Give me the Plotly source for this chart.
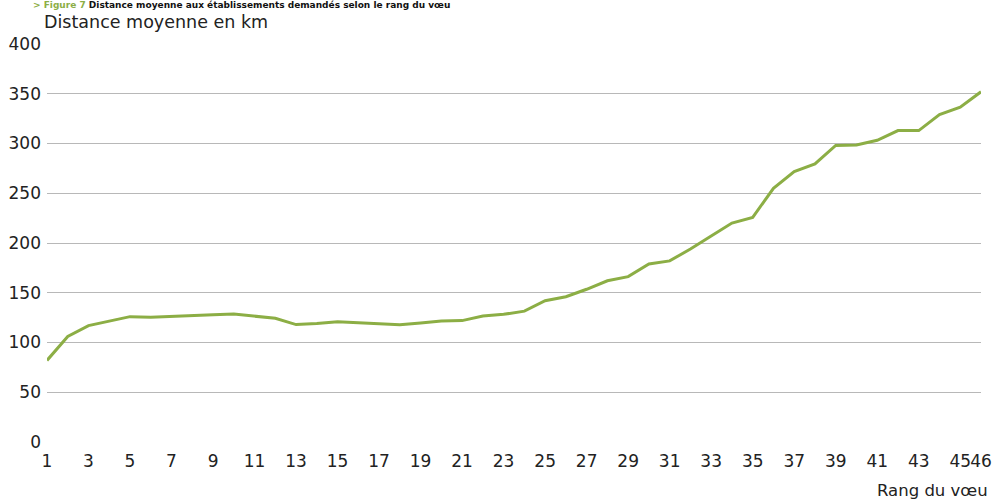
import plotly.graph_objects as go

rangs = list(range(1, 47))
distance = [82, 106, 117, 121.5, 126, 125.5, 126.5, 127.5, 128, 128.6,
            126.6, 124.3, 118, 119, 120.8, 119.8, 118.8, 117.8, 119.5, 121.5,
            122, 126.6, 128.3, 131.5, 142, 146, 153.5, 162, 166.2, 179,
            182, 194, 207, 220, 225.8, 255, 271.7, 279.5, 298, 298.5,
            303.2, 313, 313, 329, 336.5, 352]
xtick_vals = list(range(1, 46, 2)) + [46]
xtick_text = [str(v) for v in xtick_vals]
ytick_vals = [0, 50, 100, 150, 200, 250, 300, 350, 400]

FONT = "DejaVu Sans"
GREEN = "#8cae45"
TXT = "#222222"

fig = go.Figure()
fig.add_trace(go.Scatter(x=rangs, y=distance, mode="lines",
                         line=dict(color=GREEN, width=3), hoverinfo="x+y",
                         showlegend=False))

fig.update_layout(
    width=994, height=499,
    margin=dict(l=47, r=13, t=44, b=57, autoexpand=False),
    paper_bgcolor="white", plot_bgcolor="white",
    font=dict(family=FONT, size=17, color=TXT),
    xaxis=dict(range=[1, 46], tickvals=xtick_vals, ticktext=xtick_text,
               tickangle=0, showgrid=False, zeroline=False, showline=False,
               ticks="", ticklabelstandoff=7, automargin=False,
               tickfont=dict(size=17, color=TXT)),
    yaxis=dict(range=[0, 400], tickvals=ytick_vals, showgrid=True,
               gridcolor="#b8b8b8", gridwidth=1, zeroline=False,
               showline=False, ticks="", ticklabelstandoff=5, automargin=False,
               tickfont=dict(size=17, color=TXT)),
    annotations=[
        dict(text="<span style='color:#8cae45'>&gt; Figure 7</span> Distance moyenne aux établissements demandés selon le rang du vœu",
             xref="paper", yref="paper", x=-0.017, y=1.0, yshift=46,
             xanchor="left", yanchor="top", showarrow=False,
             font=dict(family=FONT, size=9, color="#111111", weight="bold")),
        dict(text="Distance moyenne en km", xref="paper", yref="paper",
             x=-0.005, y=1.0, yshift=22, xanchor="left", yanchor="middle",
             showarrow=False, font=dict(family=FONT, size=17.5, color=TXT)),
        dict(text="Rang du vœu", xref="paper", yref="paper",
             x=1.0, y=0.0, xshift=9, yshift=-48, xanchor="right", yanchor="middle",
             showarrow=False, font=dict(family=FONT, size=16.5, color=TXT)),
    ],
)

fig.write_html("out.html", config={"displayModeBar": False},
               post_script="document.body.style.margin='0';document.body.style.padding='0';")
